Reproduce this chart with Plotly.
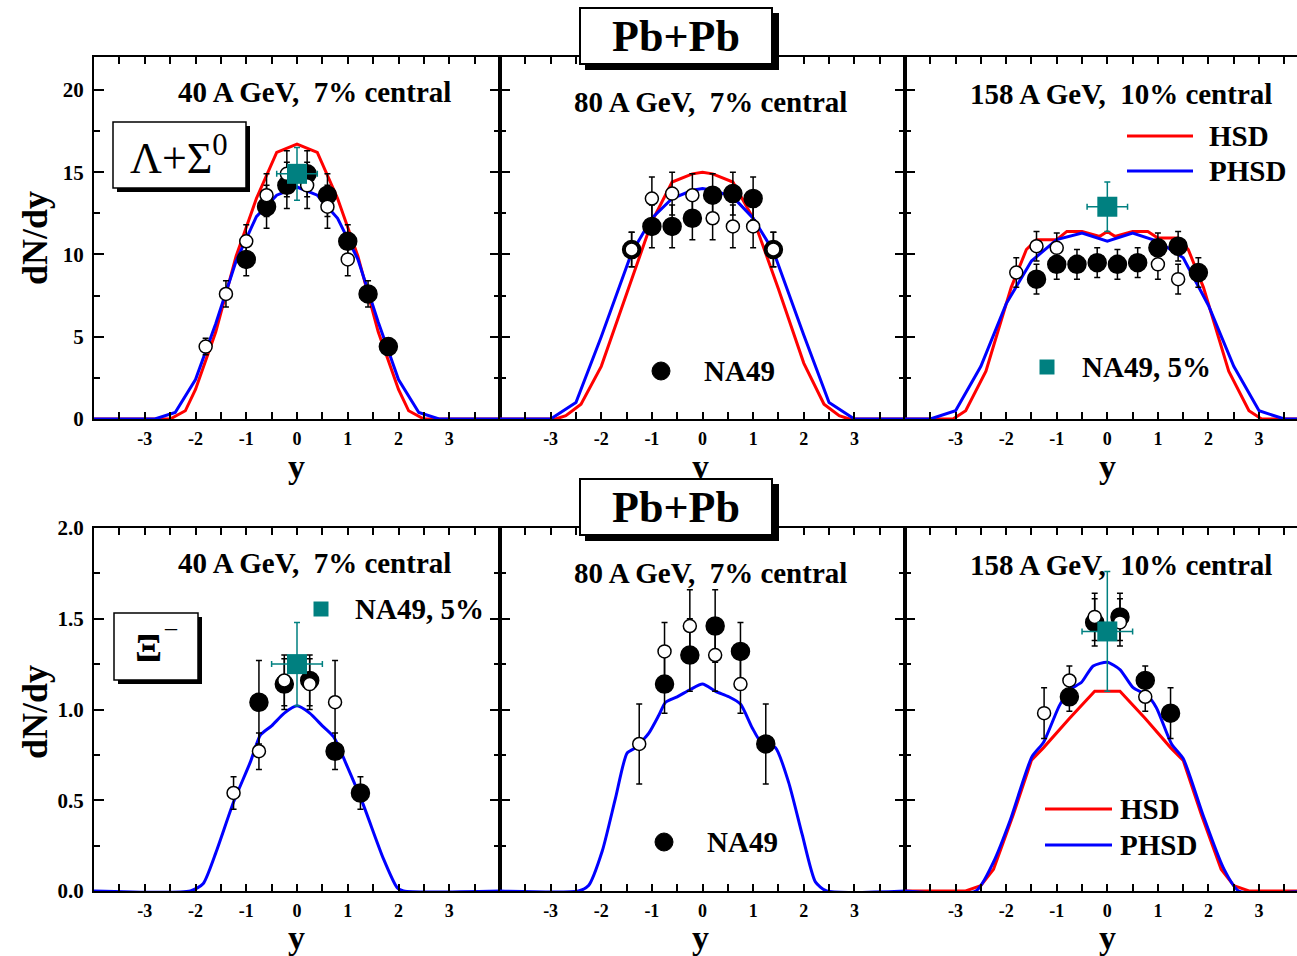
import plotly.graph_objects as go

# ---------------- data ----------------
# Lambda+Sigma0, 40 A GeV
lam40_hsd_y = [-4.0, -2.5, -2.2, -2.0, -1.6, -1.2, -0.8, -0.4, 0.0, 0.4, 0.8, 1.2, 1.6, 2.0, 2.2, 2.5, 4.0]
lam40_hsd = [0, 0, 0.5, 1.8, 5.3, 9.9, 13.4, 16.2, 16.7, 16.2, 13.4, 9.9, 5.3, 1.8, 0.5, 0, 0]
lam40_phsd_y = [-4.0, -2.8, -2.4, -2.0, -1.6, -1.2, -0.8, -0.4, 0.0, 0.4, 0.8, 1.2, 1.6, 2.0, 2.4, 2.8, 4.0]
lam40_phsd = [0, 0, 0.4, 2.4, 5.8, 9.6, 12.3, 13.6, 14.1, 13.6, 12.2, 9.7, 5.9, 2.4, 0.4, 0, 0]
lam40_fill_y = [-1.0, -0.6, -0.2, 0.2, 0.6, 1.0, 1.4, 1.8]
lam40_fill = [9.7, 12.9, 14.2, 14.9, 13.6, 10.8, 7.6, 4.4]
lam40_fill_err = [1.0, 1.3, 1.4, 1.4, 1.3, 1.0, 0.8, 0.5]
lam40_open_y = [1.0, 0.6, 0.2, -0.2, -0.6, -1.0, -1.4, -1.8]
lam40_open = [9.7, 12.9, 14.2, 14.9, 13.6, 10.8, 7.6, 4.4]
lam40_open_err = [1.0, 1.3, 1.4, 1.4, 1.3, 1.0, 0.8, 0.5]
lam40_na49_y, lam40_na49, lam40_na49_err, lam40_na49_xerr = [0.0], [14.9], [1.6], [0.4]

# Lambda+Sigma0, 80 A GeV
lam80_hsd_y = [-4, -2.9, -2.7, -2.4, -2.0, -1.5, -1.0, -0.6, -0.2, 0.0, 0.2, 0.6, 1.0, 1.5, 2.0, 2.4, 2.7, 2.9, 4]
lam80_hsd = [0, 0, 0.2, 0.9, 3.2, 7.6, 12.0, 14.4, 14.9, 15.0, 14.9, 14.4, 12.2, 7.9, 3.4, 0.9, 0.2, 0, 0]
lam80_phsd_y = [-4, -3.0, -2.5, -2.0, -1.4, -1.0, -0.6, -0.2, 0.0, 0.2, 0.6, 1.0, 1.4, 2.0, 2.5, 3.0, 4]
lam80_phsd = [0, 0, 1.0, 5.0, 10.1, 12.2, 13.4, 13.9, 14.0, 13.9, 13.5, 12.2, 10.2, 5.1, 1.0, 0, 0]
lam80_fill_y = [-1.4, -1.0, -0.6, -0.2, 0.2, 0.6, 1.0, 1.4]
lam80_fill = [10.3, 11.7, 11.7, 12.2, 13.6, 13.7, 13.4, 10.3]
lam80_fill_err = [1.05, 1.3, 1.3, 1.3, 1.3, 1.3, 1.3, 1.05]
lam80_open_y = [1.4, 1.0, 0.6, 0.2, -0.2, -0.6, -1.0, -1.4]
lam80_open = [10.3, 11.7, 11.7, 12.2, 13.6, 13.7, 13.4, 10.3]
lam80_open_err = [1.05, 1.3, 1.3, 1.3, 1.3, 1.3, 1.3, 1.05]

# Lambda+Sigma0, 158 A GeV
lam158_hsd_y = [-4, -3.05, -2.8, -2.4, -1.9, -1.6, -1.4, -1.0, -0.8, -0.5, -0.15, 0.0, 0.15, 0.5, 0.8, 1.0, 1.4, 1.6, 1.9, 2.4, 2.8, 3.05, 4]
lam158_hsd = [0, 0, 0.5, 2.9, 8.0, 10.3, 10.9, 10.9, 11.4, 11.4, 11.1, 11.4, 11.1, 11.4, 11.4, 11.0, 11.0, 10.3, 8.0, 2.9, 0.5, 0, 0]
lam158_phsd_y = [-4, -3.5, -3.0, -2.5, -2.0, -1.5, -1.0, -0.5, 0.0, 0.5, 1.0, 1.5, 2.0, 2.5, 3.0, 3.5, 4]
lam158_phsd = [0, 0, 0.5, 3.2, 7.0, 9.6, 10.9, 11.3, 10.8, 11.3, 10.8, 9.8, 6.9, 3.2, 0.5, 0, 0]
lam158_fill_y = [-1.4, -1.0, -0.6, -0.2, 0.2, 0.6, 1.0, 1.4, 1.8]
lam158_fill = [8.5, 9.4, 9.4, 9.5, 9.4, 9.5, 10.4, 10.5, 8.9]
lam158_fill_err = [0.9, 0.9, 0.9, 0.9, 0.9, 0.9, 0.9, 0.9, 0.9]
lam158_open_y = [-1.8, -1.4, -1.0, 1.0, 1.4]
lam158_open = [8.9, 10.5, 10.4, 9.4, 8.5]
lam158_open_err = [0.9, 0.9, 0.9, 0.9, 0.9]
lam158_na49_y, lam158_na49, lam158_na49_err, lam158_na49_xerr = [0.0], [12.9], [1.5], [0.4]

# Xi-, 40 A GeV
xi40_phsd_y = [-4, -2.1, -1.85, -1.6, -1.25, -0.92, -0.72, -0.5, -0.25, 0.0, 0.25, 0.5, 0.72, 1.0, 1.3, 1.7, 1.97, 2.1, 4]
xi40_phsd = [0, 0, 0.04, 0.21, 0.49, 0.71, 0.86, 0.91, 0.98, 1.02, 0.98, 0.91, 0.85, 0.68, 0.48, 0.18, 0.02, 0, 0]
xi40_fill_y = [-0.75, -0.25, 0.25, 0.75, 1.25]
xi40_fill = [1.04, 1.14, 1.16, 0.77, 0.54]
xi40_fill_err = [0.23, 0.14, 0.14, 0.10, 0.09]
xi40_open_y = [0.75, 0.25, -0.25, -0.75, -1.25]
xi40_open = [1.04, 1.14, 1.16, 0.77, 0.54]
xi40_open_err = [0.23, 0.14, 0.14, 0.10, 0.09]
xi40_na49_y, xi40_na49, xi40_na49_err, xi40_na49_xerr = [0.0], [1.25], [0.23], [0.5]

# Xi-, 80 A GeV
xi80_phsd_y = [-4, -2.45, -2.25, -1.98, -1.72, -1.49, -1.32, -1.06, -0.86, -0.73, -0.5, -0.24, 0.0, 0.26, 0.52, 0.75, 0.98, 1.18, 1.44, 1.7, 1.97, 2.23, 2.45, 4]
xi80_phsd = [0, 0, 0.03, 0.22, 0.51, 0.76, 0.79, 0.87, 0.97, 1.04, 1.07, 1.11, 1.14, 1.10, 1.07, 1.03, 0.90, 0.81, 0.79, 0.60, 0.31, 0.05, 0, 0]
xi80_fill_y = [-0.75, -0.25, 0.25, 0.75, 1.25]
xi80_fill = [1.14, 1.30, 1.46, 1.32, 0.81]
xi80_fill_err = [0.16, 0.20, 0.20, 0.16, 0.22]
xi80_open_y = [0.75, 0.25, -0.25, -0.75, -1.25]
xi80_open = [1.14, 1.30, 1.46, 1.32, 0.81]
xi80_open_err = [0.16, 0.20, 0.20, 0.16, 0.22]

# Xi-, 158 A GeV
xi158_hsd_y = [-4, -3.2, -2.8, -2.5, -2.25, -1.86, -1.5, -1.26, -0.75, -0.25, 0.25, 0.75, 1.25, 1.5, 1.86, 2.25, 2.5, 2.8, 4]
xi158_hsd = [0, 0, 0, 0.03, 0.12, 0.42, 0.72, 0.79, 0.95, 1.10, 1.10, 0.95, 0.79, 0.72, 0.42, 0.12, 0.03, 0, 0]
xi158_phsd_y = [-4, -2.6, -2.25, -1.92, -1.49, -1.26, -0.95, -0.74, -0.51, -0.28, 0.0, 0.25, 0.51, 0.78, 0.97, 1.27, 1.5, 1.89, 2.29, 2.6, 4]
xi158_phsd = [0, 0, 0.16, 0.39, 0.74, 0.82, 1.02, 1.11, 1.15, 1.24, 1.26, 1.22, 1.12, 1.08, 1.01, 0.81, 0.73, 0.42, 0.13, 0, 0]
xi158_fill_y = [-0.75, -0.25, 0.25, 0.75, 1.25]
xi158_fill = [1.07, 1.48, 1.51, 1.16, 0.98]
xi158_fill_err = [0.08, 0.13, 0.13, 0.08, 0.14]
xi158_open_y = [0.75, 0.25, -0.25, -0.75, -1.25]
xi158_open = [1.07, 1.48, 1.51, 1.16, 0.98]
xi158_open_err = [0.08, 0.13, 0.13, 0.08, 0.14]
xi158_na49_y, xi158_na49, xi158_na49_err, xi158_na49_xerr = [0.0], [1.43], [0.33], [0.5]

x_tick_vals = [-3, -2, -1, 0, 1, 2, 3]
x_tick_text = ["-3", "-2", "-1", "0", "1", "2", "3"]
top_y_ticks = [0, 5, 10, 15, 20]
top_y_text = ["0", "5", "10", "15", "20"]
bot_y_ticks = [0, 0.5, 1.0, 1.5, 2.0]
bot_y_text = ["0.0", "0.5", "1.0", "1.5", "2.0"]

titles = ["40 A GeV,\u00a0 7% central", "80 A GeV,\u00a0 7% central", "158 A GeV,\u00a0 10% central"]

# ---------------- style ----------------
W, H = 1297, 956
SERIF = "Liberation Serif, Times New Roman, serif"
RED = "#ff0000"
BLUE = "#0000ff"
TEAL = "#008080"


def px(x):
    return x / W


def py(y):
    return 1 - y / H


fig = go.Figure()

# panel geometry (pixels)
cols = [(94, 500), (500, 905), (905, 1297)]
rows = [(57, 419), (528, 891)]
xranges = [[-4, 4], [-4, 4], [-4, 3.75]]

for r in range(2):
    for c in range(3):
        n = r * 3 + c + 1
        x0, x1 = cols[c]
        y0, y1 = rows[r]
        fig.layout[f"xaxis{n}"] = dict(
            domain=[px(x0), px(x1)], range=xranges[c], anchor=f"y{n}", automargin=False,
            tickmode="array", tickvals=x_tick_vals, ticktext=x_tick_text,
            ticks="inside", ticklen=7, tickwidth=1.5, tickcolor="black",
            showline=True, linewidth=2, linecolor="black", mirror="allticks",
            showgrid=False, zeroline=False,
            minor=dict(dtick=0.5, tick0=0, ticks="inside", ticklen=7, tickwidth=1.5,
                       tickcolor="black", showgrid=False),
            tickfont=dict(family=SERIF, size=18, color="black", weight="bold"),
            ticklabelstandoff=2,
        )
        fig.layout[f"yaxis{n}"] = dict(
            domain=[py(y1), py(y0)], range=[0, 22] if r == 0 else [0, 2.0], anchor=f"x{n}",
            automargin=False,
            tickmode="array",
            tickvals=top_y_ticks if r == 0 else bot_y_ticks,
            ticktext=top_y_text if r == 0 else bot_y_text,
            showticklabels=(c == 0),
            ticks="inside", ticklen=10, tickwidth=1.5, tickcolor="black",
            showline=True, linewidth=2, linecolor="black",
            mirror=("allticks" if c < 2 else False),
            showgrid=False, zeroline=False,
            minor=dict(dtick=2.5 if r == 0 else 0.25, tick0=0, ticks="inside", ticklen=6,
                       tickwidth=1.5, tickcolor="black", showgrid=False),
            tickfont=dict(family=SERIF, size=21, color="black", weight="bold"),
            ticklabelstandoff=4,
        )


def line(n, xs, ys, color, spline=False):
    fig.add_trace(go.Scatter(
        x=xs, y=ys, mode="lines", xaxis=f"x{n}", yaxis=f"y{n}", showlegend=False,
        line=dict(color=color, width=3, shape="spline" if spline else "linear", smoothing=0.6),
        hoverinfo="skip"))


def points(n, xs, ys, err, filled):
    fig.add_trace(go.Scatter(
        x=xs, y=ys, mode="markers", xaxis=f"x{n}", yaxis=f"y{n}", showlegend=False,
        marker=dict(symbol="circle", size=18 if filled else 13,
                    color="black" if filled else "white",
                    line=dict(color="black", width=1.5)),
        error_y=dict(type="data", array=err, color="black", thickness=1.5, width=3),
        cliponaxis=False))


def na49(n, xs, ys, err, xerr):
    fig.add_trace(go.Scatter(
        x=xs, y=ys, mode="markers", xaxis=f"x{n}", yaxis=f"y{n}", showlegend=False,
        marker=dict(symbol="square", size=20, color=TEAL, line=dict(width=0)),
        error_y=dict(type="data", array=err, color=TEAL, thickness=1.5, width=3),
        error_x=dict(type="data", array=xerr, color=TEAL, thickness=1.5, width=3),
        cliponaxis=False))


# Panel 1
line(1, lam40_hsd_y, lam40_hsd, RED)
line(1, lam40_phsd_y, lam40_phsd, BLUE)
points(1, lam40_fill_y, lam40_fill, lam40_fill_err, True)
points(1, lam40_open_y, lam40_open, lam40_open_err, False)
na49(1, lam40_na49_y, lam40_na49, lam40_na49_err, lam40_na49_xerr)
# Panel 2
line(2, lam80_hsd_y, lam80_hsd, RED)
line(2, lam80_phsd_y, lam80_phsd, BLUE)
points(2, lam80_fill_y, lam80_fill, lam80_fill_err, True)
points(2, lam80_open_y, lam80_open, lam80_open_err, False)
# Panel 3
line(3, lam158_hsd_y, lam158_hsd, RED)
line(3, lam158_phsd_y, lam158_phsd, BLUE)
points(3, lam158_fill_y, lam158_fill, lam158_fill_err, True)
points(3, lam158_open_y, lam158_open, lam158_open_err, False)
na49(3, lam158_na49_y, lam158_na49, lam158_na49_err, lam158_na49_xerr)
# Panel 4
line(4, xi40_phsd_y, xi40_phsd, BLUE, spline=True)
points(4, xi40_fill_y, xi40_fill, xi40_fill_err, True)
points(4, xi40_open_y, xi40_open, xi40_open_err, False)
na49(4, xi40_na49_y, xi40_na49, xi40_na49_err, xi40_na49_xerr)
# Panel 5
line(5, xi80_phsd_y, xi80_phsd, BLUE, spline=True)
points(5, xi80_fill_y, xi80_fill, xi80_fill_err, True)
points(5, xi80_open_y, xi80_open, xi80_open_err, False)
# Panel 6
line(6, xi158_hsd_y, xi158_hsd, RED)
line(6, xi158_phsd_y, xi158_phsd, BLUE, spline=True)
points(6, xi158_fill_y, xi158_fill, xi158_fill_err, True)
points(6, xi158_open_y, xi158_open, xi158_open_err, False)
na49(6, xi158_na49_y, xi158_na49, xi158_na49_err, xi158_na49_xerr)

shapes = []
ann = []


def text(x, y, s, size, xanchor="center", bold=True, angle=0):
    ann.append(dict(x=px(x), y=py(y), xref="paper", yref="paper", text=s, showarrow=False,
                    xanchor=xanchor, yanchor="middle", textangle=angle,
                    font=dict(family=SERIF, size=size, color="black",
                              weight="bold" if bold else "normal")))


def rect(x0, y0, x1, y1, fill, lw=0):
    shapes.append(dict(type="rect", xref="paper", yref="paper", x0=px(x0), x1=px(x1),
                       y0=py(y1), y1=py(y0), fillcolor=fill,
                       line=dict(color="black", width=lw), layer="above"))


def box_shape(x0, y0, x1, y1, sh=4):
    rect(x0 + sh, y0 + sh, x1 + sh, y1 + sh, "black")
    rect(x0, y0, x1, y1, "white", 1.5)


def legend_line(x0, x1, y, color):
    shapes.append(dict(type="line", xref="paper", yref="paper", x0=px(x0), x1=px(x1),
                       y0=py(y), y1=py(y), line=dict(color=color, width=3), layer="above"))


def legend_square(cx, cy, s, color):
    shapes.append(dict(type="rect", xref="paper", yref="paper", x0=px(cx - s / 2), x1=px(cx + s / 2),
                       y0=py(cy + s / 2), y1=py(cy - s / 2), fillcolor=color, line=dict(width=0),
                       layer="above"))


def legend_circle(cx, cy, d):
    shapes.append(dict(type="circle", xref="paper", yref="paper", x0=px(cx - d / 2), x1=px(cx + d / 2),
                       y0=py(cy + d / 2), y1=py(cy - d / 2), fillcolor="black",
                       line=dict(color="black", width=1), layer="above"))


# axis titles
for yy in (238, 712):
    text(35, yy, "dN/dy", 36, angle=-90)
for xx in (296, 700, 1107):
    text(xx, 466, "y", 34)
    text(xx, 937, "y", 34)

# panel titles
title_pos_top = [(314, 92), (711, 102), (1121, 94)]
title_pos_bot = [(314, 563), (711, 573), (1121, 565)]
for (x, y), t in zip(title_pos_top, titles):
    text(x, y, t, 29)
for (x, y), t in zip(title_pos_bot, titles):
    text(x, y, t, 29)

# particle boxes
box_shape(113, 122, 246, 188)
text(179, 155, "Λ+Σ<sup>0</sup>", 44, bold=False)
box_shape(114, 613, 198, 680)
text(148, 647, "Ξ", 40)
text(171, 627, "\u2013", 24, bold=False)

# legends
legend_line(1127, 1193, 136, RED)
text(1207, 136, "HSD", 29, xanchor="left")
legend_line(1127, 1193, 171, BLUE)
text(1207, 171, "PHSD", 29, xanchor="left")
legend_square(1047, 367, 15, TEAL)
text(1080, 367, "NA49, 5%", 29, xanchor="left")
legend_circle(661, 371, 18)
text(702, 371, "NA49", 29, xanchor="left")
legend_circle(664, 842, 18)
text(705, 842, "NA49", 29, xanchor="left")
legend_square(321, 609, 15, TEAL)
text(353, 609, "NA49, 5%", 29, xanchor="left")
legend_line(1045, 1112, 809, RED)
text(1118, 809, "HSD", 29, xanchor="left")
legend_line(1045, 1112, 845, BLUE)
text(1118, 845, "PHSD", 29, xanchor="left")

# Pb+Pb boxes: shadow as shape, white box as annotation (drawn above axis titles)
for cy in (36, 507):
    rect(585, cy - 23, 779, cy + 34, "black")
    ann.append(dict(x=px(676), y=py(cy), xref="paper", yref="paper", text="Pb+Pb", showarrow=False,
                    xanchor="center", yanchor="middle", width=190, height=54, bgcolor="white",
                    bordercolor="black", borderwidth=2, borderpad=0,
                    font=dict(family=SERIF, size=44, color="black", weight="bold")))

fig.update_layout(
    width=W, height=H, autosize=False,
    margin=dict(l=0, r=0, t=0, b=0),
    paper_bgcolor="white", plot_bgcolor="white",
    shapes=shapes, annotations=ann,
    font=dict(family=SERIF, color="black"),
)

fig.write_html("out.html")
